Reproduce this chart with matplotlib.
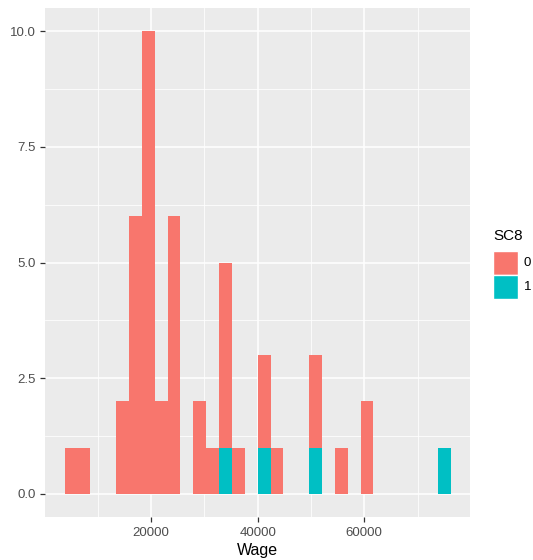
import numpy as np
import matplotlib
matplotlib.use("Agg")
import matplotlib.pyplot as plt
from matplotlib.patches import Rectangle

# ---- data (histogram of Wage, 30 bins, stacked by SC8) ----
x_min = 5000
x_max = 75000
n_bins = 30
counts_sc8_0 = [1, 1, 0, 0, 2, 6, 10, 2, 6, 0,
                2, 1, 4, 1, 0, 2, 1, 0, 0, 2,
                0, 1, 0, 2, 0, 0, 0, 0, 0, 0]
counts_sc8_1 = [0, 0, 0, 0, 0, 0, 0, 0, 0, 0,
                0, 0, 1, 0, 0, 1, 0, 0, 0, 1,
                0, 0, 0, 0, 0, 0, 0, 0, 0, 1]
legend_title = "SC8"
legend_labels = ["0", "1"]
x_label = "Wage"
x_ticks = [20000, 40000, 60000]
y_ticks = [0.0, 2.5, 5.0, 7.5, 10.0]

col0 = "#F8766D"
col1 = "#00BFC4"

plt.rcParams['font.family'] = ['Liberation Sans', 'DejaVu Sans']

W, H = 533, 560
fig = plt.figure(figsize=(W / 100, H / 100), dpi=100)
px_l, px_r, px_t, px_b = 45.3, 470.0, 8.0, 517.0
ax = fig.add_axes([px_l / W, 1 - px_b / H, (px_r - px_l) / W, (px_b - px_t) / H])

bw = (x_max - x_min) / (n_bins - 1)
centers = x_min + bw * np.arange(n_bins)
c0 = np.array(counts_sc8_0)
c1 = np.array(counts_sc8_1)

m1 = c1 > 0
ax.bar(centers[m1], c1[m1], width=bw, color=col1, linewidth=0, zorder=3)
m0 = c0 > 0
ax.bar(centers[m0], c0[m0], width=bw, bottom=c1[m0], color=col0, linewidth=0, zorder=3)

# limits with ggplot-style 5% expansion
lo, hi = x_min - bw / 2, x_max + bw / 2
ax.set_xlim(lo - 0.05 * (hi - lo), hi + 0.05 * (hi - lo))
ymax = max(c0 + c1)
ax.set_ylim(-0.05 * ymax, ymax * 1.05)

ax.set_facecolor("#EBEBEB")
for s in ax.spines.values():
    s.set_visible(False)

ax.set_xticks(x_ticks)
ax.set_xticklabels([str(v) for v in x_ticks])
ax.set_yticks(y_ticks)
ax.set_yticklabels([f"{v:.1f}" for v in y_ticks])
ax.set_xticks([10000, 30000, 50000, 70000], minor=True)
ax.set_yticks([1.25, 3.75, 6.25, 8.75], minor=True)

ax.grid(which="major", color="white", linewidth=1.1, zorder=0)
ax.grid(which="minor", color="white", linewidth=0.55, zorder=0)
ax.set_axisbelow(True)

ax.tick_params(which="major", length=3.5, width=0.9, color="#333333",
               labelcolor="#4D4D4D", labelsize=9.5, pad=3.5)
ax.tick_params(which="minor", length=0)

ax.set_xlabel(x_label, fontsize=11.5, color="black", labelpad=3)

# legend
fig.text(493 / W, 1 - 236 / H, legend_title, fontsize=11, ha="left", va="center")
keys = [(251, col0), (275, col1)]
for (ytop, c), lab in zip(keys, legend_labels):
    fig.add_artist(Rectangle((493 / W, 1 - (ytop + 24) / H), 24.5 / W, 24 / H,
                             transform=fig.transFigure, facecolor=c,
                             edgecolor="white", linewidth=1))
    fig.text(523.5 / W, 1 - (ytop + 12) / H, lab, fontsize=9.5, ha="left", va="center")

fig.savefig("out.png", dpi=100, facecolor="white")
